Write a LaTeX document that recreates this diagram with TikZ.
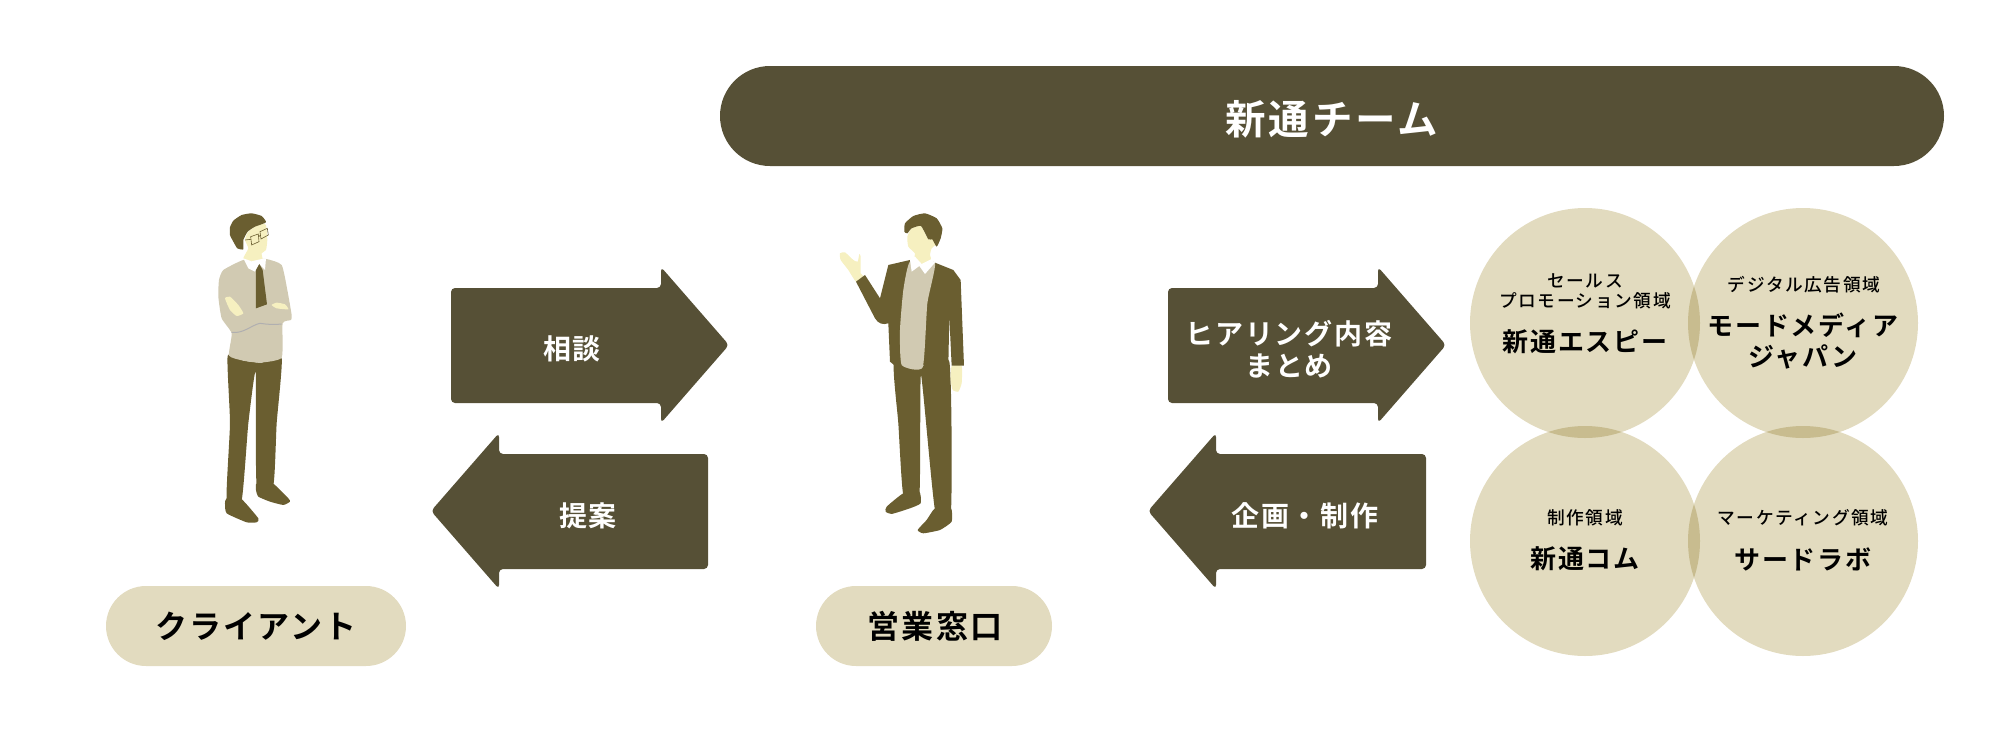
\documentclass[tikz,border=0pt]{standalone}
\usepackage{xcolor}
\usepackage{fontspec}
\usepackage{tikz}
\usetikzlibrary{positioning, shapes}
\newfontfamily\jpbold[LetterSpace=7]{Noto Sans CJK JP Bold}
\newfontfamily\jpmid[LetterSpace=9]{Noto Sans CJK JP Medium}
\definecolor{barbrown}{rgb}{0.337, 0.314, 0.212}
\definecolor{pillbeige}{rgb}{0.886, 0.859, 0.749}
\definecolor{suitolive}{rgb}{0.416, 0.369, 0.188}
\definecolor{knitbeige}{rgb}{0.820, 0.792, 0.698}
\definecolor{skincream}{rgb}{0.965, 0.941, 0.753}
\definecolor{cuffgrey}{rgb}{0.690, 0.686, 0.690}
\begin{document}
\begin{tikzpicture}[x=1pt, y=-1pt]
	\tikzstyle{teamlabel}=[text=white, font=\jpbold\fontsize{40.5}{40}\selectfont]
	\tikzstyle{pilllabel}=[text=black, font=\jpbold\fontsize{32}{32}\selectfont]
	\tikzstyle{arrowlabel}=[text=white, align=center, font=\jpbold\fontsize{28}{32}\selectfont]
	\tikzstyle{areaname}=[text=black, align=center, font=\jpbold\fontsize{26}{31}\selectfont]
	\tikzstyle{arealabel}=[text=black, align=center, font=\jpmid\fontsize{17.7}{20}\selectfont]
	\tikzstyle{arrowbody}=[fill=barbrown, rounded corners=4pt]
	\tikzstyle{bodyline}=[smooth cycle, tension=0.3]
	\useasboundingbox (0,0) rectangle (2000,750);
	%% team bar and name pills
	\fill [barbrown, rounded corners=50pt] (720,66) rectangle (1944,166);
	\fill [pillbeige, rounded corners=40pt] (106,586) rectangle (406,666);
	\fill [pillbeige, rounded corners=40pt] (816,586) rectangle (1052,666);
	\node (team) at (1332,119.5) [teamlabel] {新通チーム};
	\node (client) at (256,626) [pilllabel] {クライアント};
	\node (desk) at (935,626) [pilllabel] {営業窓口};
	%% arrows
	\fill [arrowbody] (451,288) -- (661,288) -- (661,267) -- (729,345) -- (661,423) -- (661,403) -- (451,403) -- cycle;
	\fill [arrowbody] (708,454) -- (499,454) -- (499,433) -- (431,511) -- (499,589) -- (499,569) -- (708,569) -- cycle;
	\fill [arrowbody] (1168,288) -- (1378,288) -- (1378,267) -- (1446,345) -- (1378,423) -- (1378,403) -- (1168,403) -- cycle;
	\fill [arrowbody] (1426,454) -- (1216,454) -- (1216,433) -- (1148,511) -- (1216,589) -- (1216,569) -- (1426,569) -- cycle;
	\node (sodan) at (572,349) [arrowlabel] {相談};
	\node (teian) at (588,516) [arrowlabel] {提案};
	\node (hearing) at (1289,349) [arrowlabel] {ヒアリング内容\\まとめ};
	\node (kikaku) at (1305,516) [arrowlabel] {企画・制作};
	%% four circles
	\begin{scope}[blend group=multiply]
		\fill [pillbeige] (1585,323) circle (115);
		\fill [pillbeige] (1803,323) circle (115);
		\fill [pillbeige] (1585,541) circle (115);
		\fill [pillbeige] (1803,541) circle (115);
	\end{scope}
	\node (c1top) at (1585,291.5) [arealabel] {セールス\\プロモーション領域};
	\node (c1name) at (1585,342) [areaname] {新通エスピー};
	\node (c2top) at (1804,285) [arealabel] {デジタル広告領域};
	\node (c2name) at (1803,341) [areaname] {モードメディア\\ジャパン};
	\node (c3top) at (1585,518) [arealabel] {制作領域};
	\node (c3name) at (1585,559) [areaname] {新通コム};
	\node (c4top) at (1803,518) [arealabel] {マーケティング領域};
	\node (c4name) at (1803,559) [areaname] {サードラボ};
	%% client figure
	\begin{scope}[shift={(180,190)}, x=0.3333pt, y=-0.3333pt]
		\fill [suitolive] plot[bodyline] coordinates {(143,498) (190,512) (245,518) (305,505) (290,700) (280,885) (230,885) (227,545) (205,700) (185,930) (140,930) (150,700)};
		\fill [suitolive] plot[bodyline] coordinates {(230,880) (278,880) (325,925) (330,935) (310,945) (270,935) (235,920) (228,900)};
		\fill [suitolive] plot[bodyline] coordinates {(140,925) (182,925) (235,985) (230,997) (200,997) (140,970) (135,940)};
		\fill [knitbeige] plot[bodyline] coordinates {(190,210) (130,240) (117,270) (115,320) (125,385) (155,430) (147,497) (190,512) (240,518) (305,503) (308,400) (333,390) (335,375) (322,300) (305,225) (258,207)};
		\draw [cuffgrey, line width=1pt] (155,427) .. controls (190,432) and (215,405) .. (240,400) .. controls (260,403) and (285,405) .. (305,402);
		\fill [skincream] plot[bodyline] coordinates {(195,150) (205,125) (240,100) (258,105) (262,150) (258,180) (245,190) (247,210) (215,215) (190,205) (205,175)};
		\fill [suitolive] plot[bodyline] coordinates {(190,178) (172,175) (160,155) (150,135) (150,112) (160,92) (185,75) (215,70) (245,78) (258,97) (225,110) (203,125) (190,150)};
		\fill [white] (190,205) -- (215,214) -- (245,207) -- (258,205) -- (255,240) -- (238,222) -- (225,245) -- (205,235) -- cycle;
		\fill [suitolive] (228,240) -- (238,222) -- (248,240) -- (261,343) -- (228,355) -- cycle;
		\fill [skincream] plot[bodyline] coordinates {(135,325) (150,320) (175,345) (190,370) (170,378) (150,360)};
		\fill [skincream] plot[bodyline] coordinates {(275,345) (290,338) (315,343) (325,358) (290,355)};
		\draw [suitolive, line width=0.6pt] (195,150) -- (212,148) (212,140) -- (235,132) -- (237,155) -- (215,165) -- cycle (240,125) -- (262,115) -- (265,135) -- (243,147) -- cycle (236,140) -- (241,136);
	\end{scope}
	%% desk figure
	\begin{scope}[shift={(820,190)}, x=0.3333pt, y=-0.3333pt]
		\fill [suitolive] plot[bodyline] coordinates {(222,520) (300,530) (388,515) (393,960) (345,960) (303,555) (298,915) (250,915) (235,700)};
		\fill [suitolive] plot[bodyline] coordinates {(250,910) (298,905) (302,940) (270,955) (215,972) (197,965) (200,950)};
		\fill [suitolive] plot[bodyline] coordinates {(345,955) (393,955) (395,995) (360,1020) (310,1030) (293,1020) (320,990)};
		\fill [skincream] plot[bodyline] coordinates {(395,528) (425,528) (425,580) (415,605) (398,600) (392,570)};
		\fill [skincream] plot[bodyline] coordinates {(60,190) (75,187) (100,210) (113,215) (118,192) (122,200) (122,250) (130,258) (108,275) (85,240) (62,210)};
		\fill [suitolive] (108,275) -- (135,255) -- (180,325) -- (205,225) -- (270,210) -- (345,218) -- (400,240) -- (422,270) -- (432,527) -- (395,527) -- (388,380) -- (385,525) -- (222,525) -- (210,515) -- (205,400) .. controls (190,405) and (175,402) .. (165,385) -- cycle;
		\fill [knitbeige] plot[bodyline] coordinates {(270,215) (345,218) (322,340) (308,532) (245,525) (240,420) (250,300)};
		\fill [skincream] plot[bodyline] coordinates {(262,140) (275,115) (303,108) (325,148) (350,142) (352,160) (335,175) (330,195) (333,210) (300,225) (283,205) (285,190) (265,170)};
		\fill [suitolive] plot[bodyline] coordinates {(253,125) (255,100) (280,78) (315,70) (350,85) (367,115) (362,145) (350,170) (337,148) (325,148) (303,108) (275,115) (262,130)};
		\fill [white] (270,210) -- (285,200) -- (305,222) -- (333,208) -- (345,218) -- (315,252) -- (298,228) -- (275,245) -- cycle;
	\end{scope}
\end{tikzpicture}
\end{document}
